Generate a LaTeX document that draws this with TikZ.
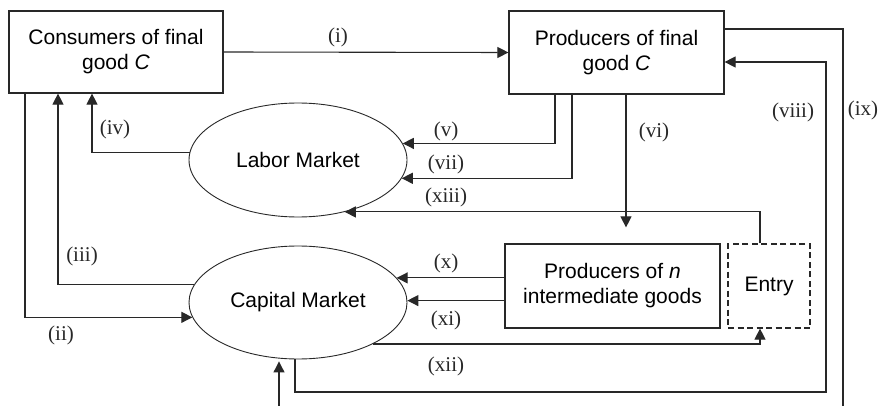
\documentclass[tikz,border=0pt]{standalone}
\usepackage{fontspec}
\setmainfont{Liberation Serif}
\newfontfamily\boxfont{Liberation Sans}
\usetikzlibrary{arrows.meta,shapes.geometric}
\definecolor{ink}{RGB}{40,40,40}
\begin{document}
\begin{tikzpicture}[x=1pt,y=-1pt,
  agent/.style={draw=ink, line width=1.2pt, rectangle, inner sep=0pt, align=center,
    font=\boxfont\fontsize{21}{25}\selectfont},
  market/.style={draw=ink, line width=0.9pt, ellipse, inner sep=0pt,
    minimum width=218pt, font=\boxfont\fontsize{21}{25}\selectfont},
  flow/.style={draw=ink, line width=1.1pt, -{Triangle[length=11pt,width=11pt]}},
  link/.style={draw=ink, line width=1.1pt},
  tag/.style={text=ink, inner sep=0pt, font=\fontsize{21}{25}\selectfont}
]
\clip (0,0) rectangle (883,406);
\fill[white] (0,0) rectangle (883,406);

% agents and markets
\node[agent, minimum width=214pt, minimum height=82pt] (cons) at (116,52) {Consumers of final\\good \textit{C}};
\node[agent, minimum width=215pt, minimum height=83pt] (prod) at (616.5,52.5) {Producers of final\\good \textit{C}};
\node[market, minimum height=114pt] (labor) at (298,160) {Labor Market};
\node[market, minimum height=113pt] (capital) at (298,302.5) {Capital Market};
\node[agent, minimum width=215pt, minimum height=84pt] (inter) at (612.5,286) {Producers of \textit{n}\\intermediate goods};
\node[agent, dashed, dash pattern=on 6pt off 3.5pt, minimum width=82pt, minimum height=84pt] (entry) at (769,286) {Entry};

% routing lanes
\coordinate (lane2) at (25,0);
\coordinate (lane3) at (58,0);
\coordinate (lane4) at (92,0);
\coordinate (lane5) at (555,0);
\coordinate (lane7) at (572,0);
\coordinate (lane6) at (626,0);
\coordinate (laneE) at (760,0);
\coordinate (lane8b) at (295,0);
\coordinate (turn8) at (826,392);
\coordinate (out9) at (843,420);
\coordinate (inB) at (279,420);

% flows
\draw[flow] (cons.east) -- (prod.west);
\draw[flow] (cons.south -| lane2) |- (capital.188);
\draw[flow] (capital.170) -| (cons.south -| lane3);
\draw[flow] (labor.176) -| (cons.south -| lane4);
\draw[flow] (prod.south -| lane5) |- (labor.9);
\draw[flow] (prod.south -| lane7) |- (labor.-10);
\draw[flow, shorten >=16pt] (prod.south -| lane6) -- (inter.north -| lane6);
\draw[flow] (entry.north -| laneE) |- (labor.-48);
\draw[flow] (capital.south -| lane8b) |- (turn8) |- ([yshift=-9.5pt]prod.east);
\draw[link] ([yshift=23.5pt]prod.east) -| (out9);
\draw[flow, shorten >=2pt] (inB) -- (capital.south -| inB);
\draw[flow] (inter.west |- capital.14) -- (capital.14);
\draw[flow] (inter.west |- capital.1) -- (capital.1);
\draw[flow] (capital.-29) -| (entry.south -| laneE);

% flow labels
\node[tag] (li) at (338,37) {(i)};
\node[tag] (lii) at (61,335) {(ii)};
\node[tag] (liii) at (82,256) {(iii)};
\node[tag] (liv) at (115,129) {(iv)};
\node[tag] (lv) at (446,131) {(v)};
\node[tag] (lvi) at (654,132) {(vi)};
\node[tag] (lvii) at (446,164) {(vii)};
\node[tag] (lviii) at (793,112) {(viii)};
\node[tag] (lix) at (863,110) {(ix)};
\node[tag] (lx) at (446,263) {(x)};
\node[tag] (lxi) at (446,320) {(xi)};
\node[tag] (lxii) at (446,366) {(xii)};
\node[tag] (lxiii) at (446,197) {(xiii)};
\end{tikzpicture}
\end{document}
